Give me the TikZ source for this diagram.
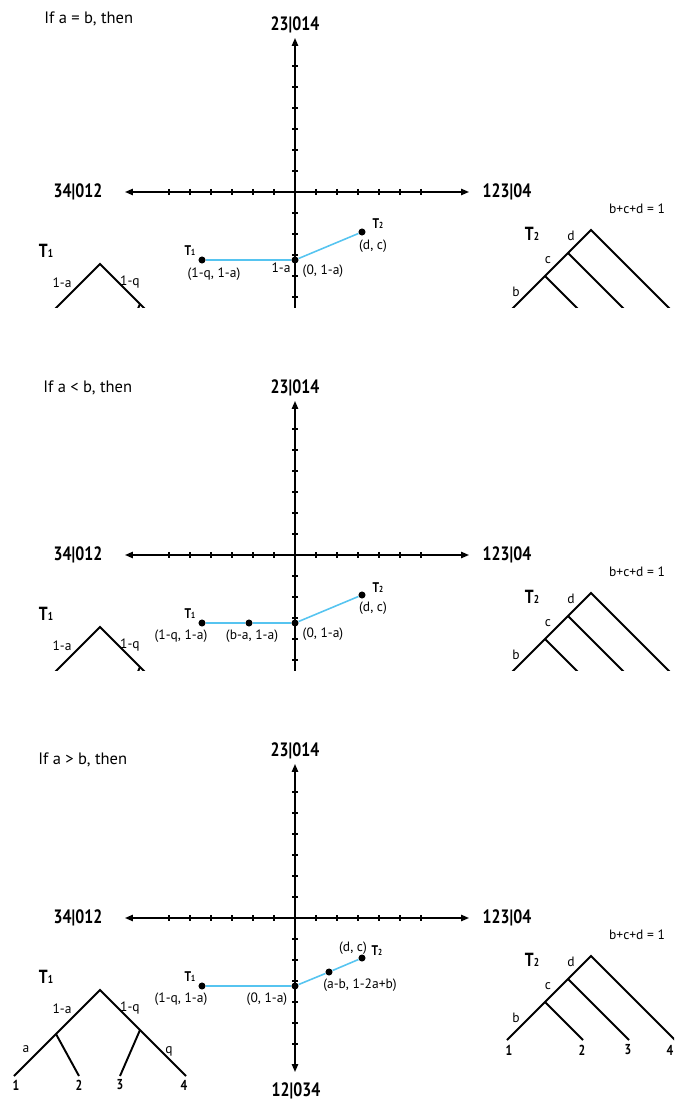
\documentclass[tikz,border=0pt]{standalone}
\usepackage{fontspec}
\setmainfont{PT Sans}
\newfontfamily\axfont[FakeStretch=0.82]{PT Sans}
\usetikzlibrary{arrows.meta}
\definecolor{linkblue}{RGB}{86,196,240}
\tikzset{
  axis/.style={line width=0.85pt,-{Triangle[length=4.5pt,width=3.6pt]}},
  tickmark/.style={line width=0.7pt},
  branch/.style={line width=1.1pt,line join=miter},
  link/.style={draw=linkblue,line width=0.9pt},
  dot/.style={circle,fill=black,inner sep=0pt,minimum size=4pt},
  axlabel/.style={font=\axfont\bfseries\fontsize{11}{12}\selectfont,inner sep=0pt},
  lbl/.style={font=\fontsize{7.7}{8.5}\selectfont,inner sep=0pt},
  cond/.style={font=\fontsize{9.4}{10}\selectfont,inner sep=0pt,anchor=west},
  leaf/.style={font=\axfont\bfseries\fontsize{8.2}{9}\selectfont,inner sep=0pt},
  tname/.style={font=\axfont\bfseries\fontsize{10.8}{12}\selectfont,inner sep=0pt},
  gname/.style={font=\axfont\bfseries\fontsize{8}{9}\selectfont,inner sep=0pt},
}
\newcommand\bigT[1]{T{\fontsize{6.5}{7}\selectfont #1}}
\newcommand\smallT[1]{T{\fontsize{5}{5}\selectfont #1}}
% axes: #1 suffix, #2 y of horizontal axis
\newcommand\drawaxes[2]{%
  \coordinate (O#1) at (295,#2);
  \coordinate (L#1) at (125,#2);
  \coordinate (R#1) at (469,#2);
  \coordinate (U#1) at (295,{#2-154});
  \coordinate (D#1) at (295,{#2+154});
  \draw[axis] (O#1) -- (L#1);
  \draw[axis] (O#1) -- (R#1);
  \draw[axis] (O#1) -- (U#1);
  \draw[axis] (O#1) -- (D#1);
  \foreach \k in {1,...,6}{
    \draw[tickmark] ({295+21*\k},{#2-3}) -- ({295+21*\k},{#2+3});
    \draw[tickmark] ({295-21*\k},{#2-3}) -- ({295-21*\k},{#2+3});
    \draw[tickmark] (292,{#2+21*\k}) -- (298,{#2+21*\k});
    \draw[tickmark] (292,{#2-21*\k}) -- (298,{#2-21*\k});
  }
  \node[axlabel] (W#1) at (78,#2) {34|012};
  \node[axlabel] (E#1) at (507,#2) {123|04};
  \node[axlabel] (N#1) at (295,{#2-167}) {23|014};
}
% tree T1 (upper part): #1 suffix, #2 apex y
\newcommand\treeone[2]{%
  \coordinate (A#1) at (100,#2);
  \coordinate (AL#1) at (56,{#2+44});
  \coordinate (AR#1) at (140,{#2+40});
  \coordinate (Aa#1) at (14,{#2+86});
  \coordinate (Ab#1) at (79,{#2+86});
  \coordinate (Ac#1) at (120,{#2+86});
  \coordinate (Ad#1) at (186,{#2+86});
  \draw[branch] (Aa#1) -- (AL#1) -- (A#1) -- (AR#1) -- (Ad#1);
  \draw[branch] (AL#1) -- (Ab#1);
  \draw[branch] (AR#1) -- (Ac#1);
  \node[tname] (AT#1) at (46,{#2-13}) {\bigT{1}};
  \node[lbl] (Ala#1) at (62,{#2+19}) {1-a};
  \node[lbl] (Alq#1) at (130,{#2+18}) {1-q};
}
% tree T2 (upper part): #1 suffix, #2 apex y
\newcommand\treetwo[2]{%
  \coordinate (B#1) at (591,#2);
  \coordinate (B1#1) at (568,{#2+23});
  \coordinate (B2#1) at (545,{#2+46});
  \coordinate (Ba#1) at (507,{#2+84});
  \coordinate (Bb#1) at (583,{#2+84});
  \coordinate (Bc#1) at (629,{#2+84});
  \coordinate (Bd#1) at (675,{#2+84});
  \draw[branch] (Ba#1) -- (B2#1) -- (B1#1) -- (B#1) -- (Bd#1);
  \draw[branch] (B2#1) -- (Bb#1);
  \draw[branch] (B1#1) -- (Bc#1);
  \node[tname] (BT#1) at (532,{#2+4}) {\bigT{2}};
  \node[lbl] (Bld#1) at (571,{#2+6}) {d};
  \node[lbl] (Blc#1) at (548,{#2+30}) {c};
  \node[lbl] (Blb#1) at (516,{#2+62}) {b};
  \node[lbl] (Bsum#1) at (637,{#2-21}) {b+c+d = 1};
}
\begin{document}
\begin{tikzpicture}[x=0.02cm,y=-0.02cm]
\useasboundingbox (0,0) rectangle (674,1104);
\clip (0,0) rectangle (674,1104);
% ---------------- panel 1 ----------------
\begin{scope}
  \clip (0,0) rectangle (674,308);
  \node[cond] (C1) at (44,19) {If a = b, then};
  \drawaxes{1}{192}
  \treeone{1}{264}
  \treetwo{1}{230}
  \node[dot] (P1a) at (202,260) {};
  \node[dot] (P1o) at (295,260) {};
  \node[dot] (P1b) at (362,232) {};
  \draw[link] (P1a) -- (P1o) -- (P1b);
  \node[gname] (G1a) at (190,251) {\smallT{1}};
  \node[lbl] (Q1a) at (214,274) {(1-q, 1-a)};
  \node[lbl] (Q1m) at (281,268) {1-a};
  \node[lbl] (Q1o) at (323,271) {(0, 1-a)};
  \node[gname] (G1b) at (378,224) {\smallT{2}};
  \node[lbl] (Q1b) at (373,246) {(d, c)};
\end{scope}
% ---------------- panel 2 ----------------
\begin{scope}
  \clip (0,308) rectangle (674,670);
  \node[cond] (C2) at (43,388) {If a < b, then};
  \drawaxes{2}{555}
  \treeone{2}{627}
  \treetwo{2}{593}
  \node[dot] (P2a) at (202,623) {};
  \node[dot] (P2m) at (249,623) {};
  \node[dot] (P2o) at (295,623) {};
  \node[dot] (P2b) at (362,595) {};
  \draw[link] (P2a) -- (P2m) -- (P2o) -- (P2b);
  \node[gname] (G2a) at (190,614) {\smallT{1}};
  \node[lbl] (Q2a) at (181,636) {(1-q, 1-a)};
  \node[lbl] (Q2m) at (252,636) {(b-a, 1-a)};
  \node[lbl] (Q2o) at (323,634) {(0, 1-a)};
  \node[gname] (G2b) at (378,588) {\smallT{2}};
  \node[lbl] (Q2b) at (373,608) {(d, c)};
\end{scope}
% ---------------- panel 3 ----------------
\begin{scope}
  \clip (0,670) rectangle (674,1104);
  \node[cond] (C3) at (38,760) {If a > b, then};
  \drawaxes{3}{918}
  \node[axlabel] (S3) at (296,1091) {12|034};
  \treeone{3}{990}
  \node[lbl] (Ea3) at (26,1049) {a};
  \node[lbl] (Eq3) at (169,1051) {q};
  \node[leaf] (Ln13) at (16,1085) {1};
  \node[leaf] (Ln23) at (79,1085) {2};
  \node[leaf] (Ln33) at (120,1085) {3};
  \node[leaf] (Ln43) at (184,1085) {4};
  \treetwo{3}{956}
  \node[leaf] (Mn13) at (509,1050) {1};
  \node[leaf] (Mn23) at (582,1050) {2};
  \node[leaf] (Mn33) at (628,1050) {3};
  \node[leaf] (Mn43) at (670,1050) {4};
  \node[dot] (P3a) at (202,986) {};
  \node[dot] (P3o) at (295,986) {};
  \node[dot] (P3m) at (329,972) {};
  \node[dot] (P3b) at (362,958) {};
  \draw[link] (P3a) -- (P3o) -- (P3m) -- (P3b);
  \node[gname] (G3a) at (190,977) {\smallT{1}};
  \node[lbl] (Q3a) at (181,999) {(1-q, 1-a)};
  \node[lbl] (Q3o) at (267,999) {(0, 1-a)};
  \node[lbl] (Q3m) at (360,985) {(a-b, 1-2a+b)};
  \node[lbl] (Q3b) at (353,948) {(d, c)};
  \node[gname] (G3b) at (377,951) {\smallT{2}};
\end{scope}
\end{tikzpicture}
\end{document}
